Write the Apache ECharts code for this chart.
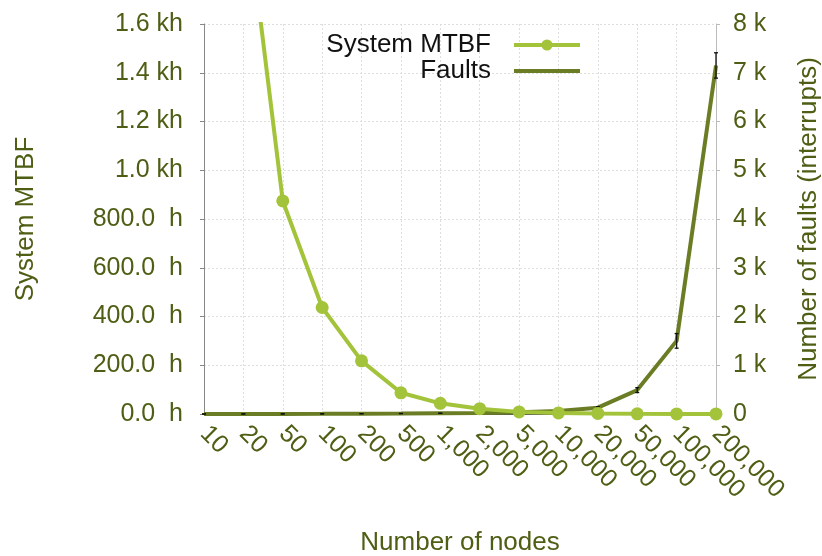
<!DOCTYPE html>
<html>
<head>
<meta charset="utf-8">
<script src="https://cdn.jsdelivr.net/npm/echarts@6/dist/echarts.min.js"></script>
<style>html,body{margin:0;padding:0;background:#fff}#c{width:822px;height:556px}</style>
</head>
<body>
<div id="c"></div>
<script>
var categories = ['10','20','50','100','200','500','1,000','2,000','5,000','10,000','20,000','50,000','100,000','200,000'];
var mtbfHours = [4370, 2185, 874, 437, 218, 87, 43.7, 21.8, 8.7, 4.4, 2.2, 0.9, 0.44, 0.22];
var faults = [0.4, 0.7, 2, 4, 7, 10, 15, 20, 35, 60, 130, 490, 1500, 7150];
var faultsErr = [0, 0, 0, 0, 0, 0, 0, 0, 5, 10, 20, 50, 150, 260];
var leftTickLabels = ['0.0  h','200.0  h','400.0  h','600.0  h','800.0  h','1.0 kh','1.2 kh','1.4 kh','1.6 kh'];
var rightTickLabels = ['0','1 k','2 k','3 k','4 k','5 k','6 k','7 k','8 k'];

var textColor = '#4e5e14';
var fontFam = '"Liberation Sans", Arial, sans-serif';
var errData = faults.map(function (v, i) { return [i, v - faultsErr[i], v + faultsErr[i]]; });

var chart = echarts.init(document.getElementById('c'));
chart.setOption({
  animation: false,
  textStyle: { fontFamily: fontFam },
  grid: { left: 204, right: 106, top: 24, bottom: 142, outerBoundsMode: 'none', containLabel: false },
  legend: {
    top: 32, right: 240,
    align: 'right',
    orient: 'vertical',
    itemWidth: 66, itemHeight: 14, itemGap: 0,
    padding: 0,
    lineStyle: { width: 4 },
    textStyle: { fontSize: 26, color: '#111', fontFamily: fontFam, lineHeight: 25, padding: [0, 18, 0, 0] },
    data: [
      { name: 'System MTBF' },
      { name: 'Faults', icon: 'path://M0,0 L0,14 M0,5 L66,5 L66,9 L0,9 Z', itemStyle: { color: '#6b7d24' } }
    ]
  },
  xAxis: {
    type: 'category', data: categories, boundaryGap: false,
    name: 'Number of nodes', nameLocation: 'middle', nameGap: 116,
    nameTextStyle: { fontSize: 26, color: textColor },
    axisLine: { lineStyle: { color: '#555', width: 1 } },
    axisTick: { show: false },
    axisLabel: { rotate: -45, fontSize: 25, color: textColor, margin: 16, interval: 0 },
    splitLine: { show: true, lineStyle: { color: '#ddd', type: [2, 2], width: 1 } }
  },
  yAxis: [{
    type: 'value', min: 0, max: 1600, interval: 200,
    name: 'System MTBF', nameLocation: 'middle', nameGap: 165,
    nameTextStyle: { fontSize: 26, color: textColor },
    axisLine: { show: true, lineStyle: { color: '#888' } },
    axisTick: { show: true, length: 4, lineStyle: { color: '#888' } },
    axisLabel: { fontSize: 25, color: textColor, margin: 21,
      formatter: function (v) { return leftTickLabels[Math.round(v / 200)]; } },
    splitLine: { show: true, lineStyle: { color: '#ddd', type: [2, 2], width: 1 } }
  }, {
    type: 'value', min: 0, max: 8000, interval: 1000,
    name: 'Number of faults (interrupts)', nameLocation: 'middle', nameGap: 80,
    nameTextStyle: { fontSize: 26, color: textColor },
    axisLine: { show: true, lineStyle: { color: '#bbb' } },
    axisTick: { show: true, length: 4, lineStyle: { color: '#bbb' } },
    axisLabel: { fontSize: 25, color: textColor, margin: 17,
      formatter: function (v) { return rightTickLabels[Math.round(v / 1000)]; } },
    splitLine: { show: false }
  }],
  series: [{
    name: 'Faults', type: 'line', yAxisIndex: 1, data: faults,
    symbol: 'none', z: 2,
    lineStyle: { color: '#6b7d24', width: 4 },
    itemStyle: { color: '#6b7d24' }
  }, {
    name: 'errors', type: 'custom', yAxisIndex: 1, data: errData, z: 3,
    renderItem: function (params, api) {
      var x = api.value(0);
      var lo = api.coord([x, api.value(1)]);
      var hi = api.coord([x, api.value(2)]);
      var w = 2;
      var st = { stroke: '#111', lineWidth: 1.3 };
      return { type: 'group', children: [
        { type: 'line', shape: { x1: lo[0], y1: lo[1], x2: hi[0], y2: hi[1] }, style: st },
        { type: 'line', shape: { x1: lo[0] - w, y1: lo[1], x2: lo[0] + w, y2: lo[1] }, style: st },
        { type: 'line', shape: { x1: hi[0] - w, y1: hi[1], x2: hi[0] + w, y2: hi[1] }, style: st }
      ] };
    }
  }, {
    name: 'System MTBF', type: 'line', yAxisIndex: 0, data: mtbfHours,
    symbol: 'circle', symbolSize: 13, showAllSymbol: true, z: 4,
    lineStyle: { color: '#a3c33a', width: 4 },
    itemStyle: { color: '#a3c33a' }
  }]
});
</script>
</body>
</html>
